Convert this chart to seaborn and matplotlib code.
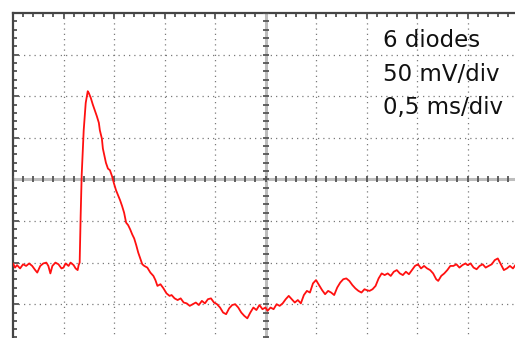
import numpy as np
import pandas as pd
import matplotlib
matplotlib.use("Agg")
import matplotlib.pyplot as plt
import seaborn as sns

# Scope settings: 0.5 ms/div over 10 divisions, 50 mV/div over 8 divisions
MS_PER_DIV = 0.5
MV_PER_DIV = 50.0
N_XDIV = 10
N_YDIV = 8

# Captured trace: time in ms, voltage in mV (0 mV = screen centre)
time_ms = [
    0.00, 0.02, 0.04, 0.07, 0.10, 0.13, 0.16, 0.19, 0.22, 0.24, 0.27, 0.30, 0.33, 0.35,
    0.37, 0.39, 0.42, 0.45, 0.48, 0.50, 0.52, 0.55, 0.57, 0.60, 0.62, 0.64, 0.65, 0.66,
    0.67, 0.68, 0.70, 0.72, 0.74, 0.75, 0.77, 0.79, 0.81, 0.83, 0.85, 0.86, 0.88, 0.89,
    0.91, 0.92, 0.94, 0.96, 0.98, 1.00, 1.02, 1.04, 1.06, 1.08, 1.10, 1.12, 1.14, 1.16,
    1.18, 1.20, 1.22, 1.24, 1.26, 1.28, 1.30, 1.33, 1.36, 1.39, 1.41, 1.43, 1.46, 1.49,
    1.52, 1.55, 1.57, 1.60, 1.63, 1.66, 1.69, 1.72, 1.75, 1.78, 1.81, 1.84, 1.87, 1.90,
    1.93, 1.96, 1.99, 2.02, 2.05, 2.08, 2.11, 2.14, 2.17, 2.20, 2.23, 2.26, 2.29, 2.32,
    2.35, 2.38, 2.41, 2.44, 2.47, 2.50, 2.52, 2.55, 2.58, 2.61, 2.64, 2.67, 2.70, 2.73,
    2.76, 2.79, 2.82, 2.85, 2.88, 2.91, 2.94, 2.97, 3.00, 3.03, 3.06, 3.09, 3.12, 3.15,
    3.18, 3.21, 3.24, 3.27, 3.30, 3.33, 3.36, 3.39, 3.42, 3.45, 3.48, 3.50, 3.53, 3.56,
    3.59, 3.62, 3.65, 3.68, 3.71, 3.74, 3.77, 3.80, 3.83, 3.86, 3.89, 3.92, 3.95, 3.98,
    4.01, 4.04, 4.07, 4.10, 4.13, 4.16, 4.19, 4.21, 4.24, 4.27, 4.30, 4.33, 4.36, 4.39,
    4.42, 4.45, 4.48, 4.50, 4.53, 4.56, 4.59, 4.62, 4.65, 4.68, 4.71, 4.74, 4.77, 4.80,
    4.83, 4.86, 4.89, 4.92, 4.95, 4.98,
]
voltage_mv = [
    -101, -106, -103, -107, -102, -104, -101, -104, -109, -112, -104, -101, -100, -104,
    -113, -104, -100, -102, -107, -106, -101, -104, -100, -103, -107, -109, -103, -100,
    -43, 5, 59, 92, 106, 104, 98, 90, 83, 76, 68, 59, 49, 37,
    26, 20, 13, 11, 4, -5, -13, -19, -25, -32, -40, -52, -55, -60,
    -66, -71, -79, -88, -95, -102, -104, -106, -112, -116, -121, -128, -126, -131,
    -137, -140, -139, -143, -145, -143, -148, -149, -152, -150, -148, -151, -146, -149,
    -144, -143, -148, -150, -154, -160, -162, -155, -151, -150, -154, -160, -164, -167,
    -160, -154, -157, -151, -156, -154, -158, -154, -156, -150, -152, -149, -144, -140,
    -144, -148, -145, -149, -139, -134, -136, -125, -121, -127, -133, -138, -134, -136,
    -139, -130, -124, -120, -119, -122, -127, -131, -134, -136, -132, -133, -134, -132,
    -128, -119, -113, -115, -113, -116, -111, -109, -113, -115, -111, -114, -109, -104,
    -102, -107, -104, -107, -109, -113, -120, -122, -116, -113, -109, -104, -104, -102,
    -106, -103, -101, -103, -101, -106, -108, -104, -102, -106, -104, -102, -97, -95,
    -102, -109, -107, -104, -107, -102,
]

info_lines = ["6 diodes", "50 mV/div", "0,5 ms/div"]

trace = pd.DataFrame({"t": time_ms, "v": voltage_mv})

sns.set_style("white")
plt.rcParams["font.family"] = ["DejaVu Sans"]

W, H = 515, 338
fig = plt.figure(figsize=(W / 100, H / 100), dpi=100, facecolor="white")

# Screen area: 50.5 px per horizontal division, 41.6 px per vertical division
left_px, top_px = 13, 13
div_w, div_h = 50.5, 41.6
ax = fig.add_axes([
    left_px / W,
    (H - top_px - N_YDIV * div_h) / H,
    N_XDIV * div_w / W,
    N_YDIV * div_h / H,
])

x_max = N_XDIV * MS_PER_DIV
y_half = N_YDIV / 2 * MV_PER_DIV
ax.set_xlim(0, x_max)
ax.set_ylim(-y_half, y_half)

# Dotted graticule
grid_kw = dict(color="#7a7a7a", lw=0.9, ls=(0, (1, 3.2)), zorder=1)
for k in range(1, N_XDIV):
    if k != N_XDIV // 2:
        ax.axvline(k * MS_PER_DIV, **grid_kw)
for k in range(1, N_YDIV):
    if k != N_YDIV // 2:
        ax.axhline(-y_half + k * MV_PER_DIV, **grid_kw)

# Centre cross with sub-division ticks
xc = x_max / 2
ax.axhline(0, color="#bdbdbd", lw=2.2, zorder=2)
ax.axvline(xc, color="#bdbdbd", lw=2.2, zorder=2)
sub_x = np.arange(0, x_max + 1e-9, MS_PER_DIV / 5)
sub_y = np.arange(-y_half, y_half + 1e-9, MV_PER_DIV / 5)
ax.plot(sub_x, np.zeros_like(sub_x), ls="none", marker="|", ms=4.5,
        mew=1.3, color="#555555", zorder=3)
ax.plot(np.full_like(sub_y, xc), sub_y, ls="none", marker="_", ms=4.5,
        mew=1.3, color="#555555", zorder=3)

# Frame: top and left edges with inward ticks
for side in ("right", "bottom"):
    ax.spines[side].set_visible(False)
for side in ("top", "left"):
    ax.spines[side].set_color("#444444")
    ax.spines[side].set_linewidth(1.6)
ax.xaxis.set_ticks_position("top")
ax.yaxis.set_ticks_position("left")
ax.set_xticks(np.arange(0, x_max + 1e-9, MS_PER_DIV))
ax.set_xticks(sub_x, minor=True)
ax.set_yticks(np.arange(-y_half, y_half + 1e-9, MV_PER_DIV))
ax.set_yticks(sub_y, minor=True)
ax.tick_params(which="both", direction="in", length=3, width=1.2,
               color="#444444", labeltop=False, labelleft=False,
               labelbottom=False, labelright=False)
ax.tick_params(which="major", length=4)

# Signal
sns.lineplot(data=trace, x="t", y="v", ax=ax, color="#ff1010", lw=1.3,
             sort=False, estimator=None, zorder=5)
ax.set_xlabel("")
ax.set_ylabel("")

# Scope settings annotation
text_x = (383 - left_px) / div_w * MS_PER_DIV
for line, base_px in zip(info_lines, (47, 81, 114)):
    y_val = (179 - base_px) / div_h * MV_PER_DIV
    ax.text(text_x, y_val, line, fontsize=16.5, color="#111111",
            ha="left", va="baseline", zorder=6)

fig.savefig("out.png", dpi=100, facecolor="white")
